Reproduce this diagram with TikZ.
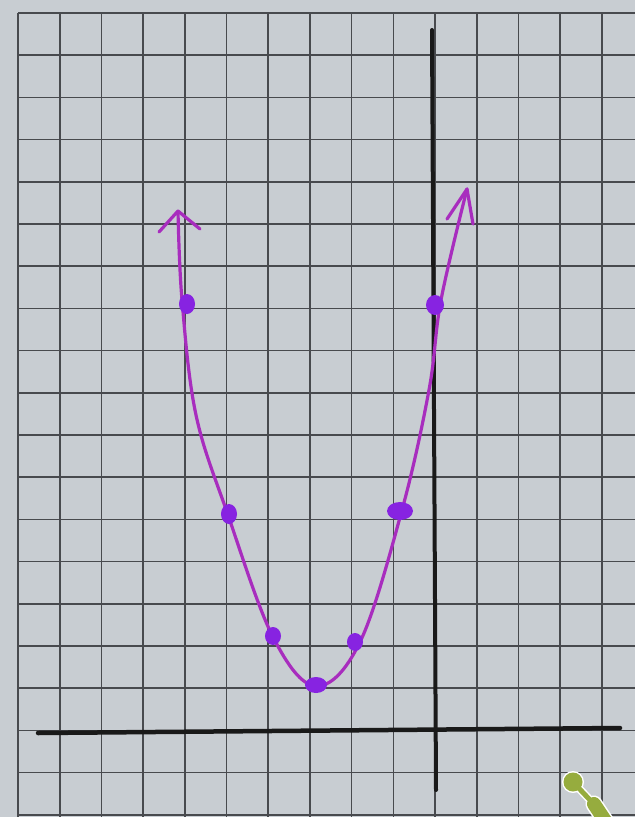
\documentclass[tikz,border=0pt]{standalone}
\usetikzlibrary{calc}
\definecolor{paper}{RGB}{200,205,210}
\definecolor{gridc}{RGB}{72,74,78}
\definecolor{curvec}{RGB}{168,45,190}
\definecolor{dotc}{RGB}{135,35,225}
\definecolor{greenc}{RGB}{150,172,62}
\tikzset{
  gridline/.style={draw=gridc, line width=1.6pt},
  axisline/.style={draw=black!90, line width=4.5pt, line cap=round},
  curveline/.style={draw=curvec, line width=3.2pt, line cap=round, line join=round},
  dotmark/.style={fill=dotc},
}
\begin{document}
\begin{tikzpicture}[x=1pt,y=-1pt]
\useasboundingbox (0,0) rectangle (635,817);
\fill[paper] (0,0) rectangle (635,817);
\begin{scope}
\clip (0,0) rectangle (635,817);
% grid
\foreach \i in {0,...,15} {
  \draw[gridline] ({18+41.7*\i},13) -- ({18+41.7*\i},817);
}
\foreach \j in {0,...,19} {
  \draw[gridline] (18,{13+42.2*\j}) -- (635,{13+42.2*\j});
}
% axes
\coordinate (xl) at (38,733);
\coordinate (xr) at (620,728);
\coordinate (yt) at (432,30);
\coordinate (yb) at (436,790);
\draw[axisline] (xl) -- (xr);
\draw[axisline, line width=4pt] (yt) -- (yb);
% parabola
\coordinate (ltip) at (178,211);
\coordinate (rtip) at (467,189);
\draw[curveline] plot[smooth, tension=0.6] coordinates {
  (178,211) (182,300) (196,415) (228,515) (273,637) (316,686)
  (360,642) (402,510) (429,390) (441,300) (467,189)};
% arrowheads
\coordinate (la) at (159,232);
\coordinate (lb) at (200,229);
\coordinate (ra) at (447,219);
\coordinate (rb) at (473,224);
\draw[curveline] (la) -- (ltip) -- (lb);
\draw[curveline] (ra) -- (rtip) -- (rb);
% points
\fill[dotmark] (187,304) ellipse (8 and 10);
\fill[dotmark] (229,514) ellipse (8 and 10);
\fill[dotmark] (273,636) ellipse (8 and 9);
\fill[dotmark] (316,685) ellipse (11 and 8);
\fill[dotmark] (355,642) ellipse (8 and 9);
\fill[dotmark] (400,511) ellipse (13 and 9);
\fill[dotmark] (435,305) ellipse (9 and 10);
% green marker
\draw[white, line width=17pt, line cap=round] (594,804) -- (610,828);
\draw[white, line width=8pt] (573,782) -- (590,800);
\fill[white] (573,782) circle (11);
\draw[greenc, line width=14pt, line cap=round] (594,804) -- (610,828);
\draw[greenc, line width=5pt] (573,782) -- (590,800);
\fill[greenc] (573,782) circle (9.5);
\end{scope}
\end{tikzpicture}
\end{document}
